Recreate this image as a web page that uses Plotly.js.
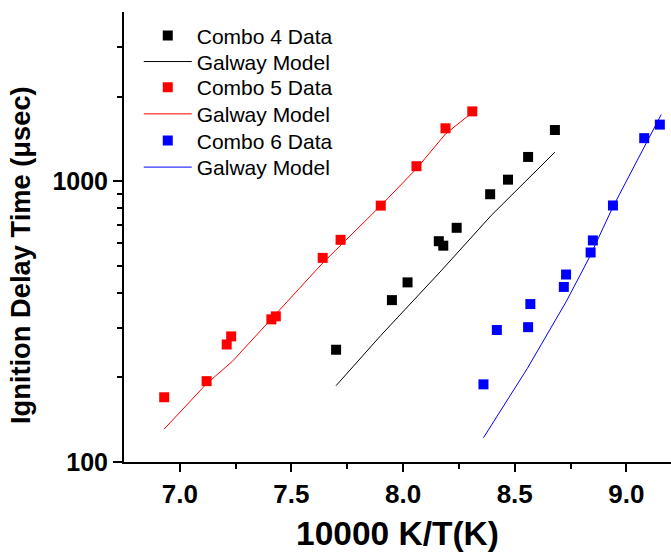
<!DOCTYPE html>
<html>
<head>
<meta charset="utf-8">
<script src="https://cdn.plot.ly/plotly-3.0.1.min.js"></script>
<style>html,body{margin:0;padding:0;background:#fff;overflow:hidden;}</style>
</head>
<body>
<div id="chart" style="width:671px;height:552px;"></div>
<script>
// Combo 4 data (black)
var x4 = [7.70, 7.95, 8.02, 8.16, 8.18, 8.24, 8.39, 8.47, 8.56, 8.68];
var y4 = [251, 377, 436, 611, 589, 682, 898, 1012, 1219, 1520];
// Galway model for combo 4
var mx4 = [7.70, 7.90, 8.17, 8.395, 8.68];
var my4 = [187, 282, 479, 755, 1268];

// Combo 5 data (red)
var x5 = [6.93, 7.12, 7.21, 7.23, 7.41, 7.43, 7.64, 7.72, 7.90, 8.06, 8.19, 8.31];
var y5 = [170, 194, 262, 280, 322, 330, 533, 618, 818, 1130, 1542, 1771];
// Galway model for combo 5
var mx5 = [6.93, 7.12, 7.235, 7.41, 7.64, 7.90, 8.06, 8.19, 8.33];
var my5 = [131, 190, 228, 324, 511, 818, 1107, 1472, 1807];

// Combo 6 data (blue)
var x6 = [8.36, 8.42, 8.56, 8.57, 8.72, 8.73, 8.84, 8.85, 8.94, 9.08, 9.15];
var y6 = [189, 295, 302, 365, 420, 465, 557, 615, 819, 1422, 1589];
// Galway model for combo 6
var mx6 = [8.36, 8.556, 8.731, 8.835, 8.939, 9.081, 9.156];
var my6 = [122, 215, 373, 536, 807, 1321, 1725];

var xTicks = [7.0, 7.5, 8.0, 8.5, 9.0];
var xTickText = ['7.0', '7.5', '8.0', '8.5', '9.0'];
var xMinor = [7.25, 7.75, 8.25, 8.75];
var yTicks = [100, 1000];
var yTickText = ['100', '1000'];
var yMinor = [200, 300, 400, 500, 600, 700, 800, 900, 2000, 3000];

var FONT = '"Liberation Sans", Arial, sans-serif';

function dataTrace(x, y, name, color, leg) {
  return {x: x, y: y, name: name, type: 'scatter', mode: 'markers', legend: leg,
          marker: {symbol: 'square', size: 10, color: color, line: {width: 0}}};
}
function modelTrace(x, y, color, leg) {
  return {x: x, y: y, name: 'Galway Model', type: 'scatter', mode: 'lines', legend: leg,
          line: {color: color, width: 1}};
}

var traces = [
  dataTrace(x4, y4, 'Combo 4 Data', '#000000', 'legend'),
  modelTrace(mx4, my4, '#000000', 'legend2'),
  dataTrace(x5, y5, 'Combo 5 Data', '#ff0000', 'legend3'),
  modelTrace(mx5, my5, '#ff0000', 'legend4'),
  dataTrace(x6, y6, 'Combo 6 Data', '#0000ff', 'legend5'),
  modelTrace(mx6, my6, '#0000ff', 'legend6')
];

function legendAt(y) {
  return {x: 0.027, y: y, xanchor: 'left', yanchor: 'top',
          bgcolor: 'rgba(0,0,0,0)', borderwidth: 0,
          font: {family: FONT, size: 21, color: '#000'},
          itemwidth: 48};
}

var xr = [6.75, 9.2];

var layout = {
  width: 671, height: 552,
  margin: {l: 124, r: 0, t: 12, b: 90},
  paper_bgcolor: '#fff', plot_bgcolor: '#fff',
  font: {family: FONT, color: '#000'},
  showlegend: true,
  legend: legendAt(0.9925),
  legend2: legendAt(0.9347),
  legend3: legendAt(0.8778),
  legend4: legendAt(0.8184),
  legend5: legendAt(0.7590),
  legend6: legendAt(0.7001),
  xaxis: {
    range: xr, showgrid: false, zeroline: false,
    showline: true, linewidth: 2, linecolor: '#000',
    tickmode: 'array', tickvals: xTicks, ticktext: xTickText,
    ticks: 'outside', ticklen: 8, tickwidth: 2, tickcolor: '#000',
    tickfont: {family: FONT, size: 26, color: '#000', weight: 'bold'},
    minor: {tickvals: xMinor, ticks: 'outside', ticklen: 5, tickwidth: 2, tickcolor: '#000'},
    title: {text: '<b>10000 K/T(K)</b>', font: {family: FONT, size: 33.5, color: '#000'}, standoff: 14}
  },
  xaxis2: {
    overlaying: 'x', side: 'top', anchor: 'y', range: xr,
    showgrid: false, zeroline: false,
    showline: true, linewidth: 2, linecolor: '#000',
    tickmode: 'array', tickvals: xTicks, showticklabels: false,
    ticks: 'inside', ticklen: 9, tickwidth: 2, tickcolor: '#000',
    minor: {tickvals: xMinor, ticks: 'inside', ticklen: 5, tickwidth: 2, tickcolor: '#000'}
  },
  yaxis: {
    type: 'log', range: [2, Math.log10(4000)],
    showgrid: false, zeroline: false,
    showline: true, linewidth: 2, linecolor: '#000',
    tickmode: 'array', tickvals: yTicks, ticktext: yTickText,
    ticks: 'outside', ticklen: 9, tickwidth: 2, tickcolor: '#000',
    tickfont: {family: FONT, size: 25, color: '#000', weight: 'bold'},
    minor: {tickvals: yMinor, ticks: 'outside', ticklen: 5, tickwidth: 2, tickcolor: '#000'}
  },
  annotations: [{
    text: '<b>Ignition Delay Time (μsec)</b>', textangle: -90,
    xref: 'paper', yref: 'paper', x: -0.19, y: 0.46,
    xanchor: 'center', yanchor: 'middle', showarrow: false,
    font: {family: FONT, size: 27.3, color: '#000'}
  }]
};

Plotly.newPlot('chart', traces, layout, {displayModeBar: false, staticPlot: true});
</script>
</body>
</html>
